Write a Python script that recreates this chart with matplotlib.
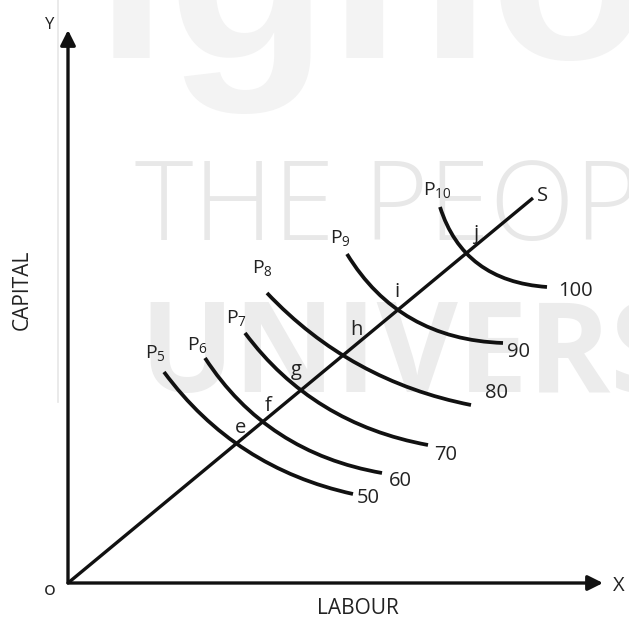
import numpy as np
import matplotlib.pyplot as plt
from matplotlib.path import Path
from matplotlib.patches import PathPatch

plt.rcParams["font.family"] = ["Open Sans", "DejaVu Sans"]
plt.rcParams["mathtext.fontset"] = "custom"
plt.rcParams["mathtext.rm"] = "Open Sans"
plt.rcParams["mathtext.it"] = "Open Sans:italic"

# ── Data (labour, capital units) ───────────────────────────────────────────
isoquants   = ["P$_5$", "P$_6$", "P$_7$", "P$_8$", "P$_9$", "P$_{10}$"]
outputs     = ["50", "60", "70", "80", "90", "100"]
points      = ["e", "f", "g", "h", "i", "j"]

curve_start = [(19.2, 42.2), (27.4, 45.0), (35.4, 50.0), (39.8, 58.0), (55.8, 65.8), (74.4, 75.2)]
curve_cross = [(33.8, 27.8), (39.0, 32.2), (46.8, 38.4), (55.2, 45.4), (66.0, 54.6), (79.8, 65.8)]
curve_end   = [(57.0, 17.8), (62.8, 22.0), (72.0, 27.6), (80.6, 35.6), (87.0, 48.0), (95.8, 59.2)]

iso_label_pos = [(17.4, 46.0), (26.0, 47.6), (33.8, 53.0), (38.8, 63.0), (54.4, 69.0), (73.8, 78.6)]
out_label_pos = [(60.0, 17.0), (66.4, 20.4), (75.6, 25.6), (85.6, 38.0), (90.0, 46.2), (101.4, 58.4)]
pt_label_pos  = [(34.4, 31.0), (40.0, 35.4), (45.6, 42.6), (57.6, 50.6), (65.8, 58.2), (81.6, 69.8)]

ray_end = (93.0, 77.0)
x_max, y_max = 107.0, 110.6

# ── Figure ─────────────────────────────────────────────────────────────────
fig = plt.figure(figsize=(6.29, 6.19), dpi=100)
ax = fig.add_axes([0, 0, 1, 1])
ax.set_xlim(-13.6, 112.2)
ax.set_ylim(-7.2, 116.6)
ax.axis("off")

# watermark (behind everything)
wm = dict(transform=fig.transFigure, ha="left", va="baseline", zorder=0, clip_on=False)
ax.text(0.150, 0.906, "ignou", fontsize=190, fontweight="bold", color="#f3f3f3",
        family=["Liberation Sans", "DejaVu Sans"], **wm)
ax.text(0.214, 0.612, "THE PEOPLE'S", fontsize=80, fontweight="light", color="#e8e8e8", **wm)
ax.text(0.222, 0.367, "UNIVERSITY", fontsize=90, fontweight="bold", color="#ececec", **wm)
ax.axvline(-2.0, ymin=0.35, ymax=1.0, color="#e6e6e6", lw=1.2, zorder=0.5)

lw = 2.4
ink = "#111111"
# axes with arrows
arrow = dict(arrowstyle="-|>,head_length=0.9,head_width=0.45", lw=lw, color=ink, shrinkA=0, shrinkB=0)
ax.annotate("", xy=(0, y_max), xytext=(0, 0), arrowprops=arrow, zorder=3)
ax.annotate("", xy=(x_max, 0), xytext=(0, 0), arrowprops=arrow, zorder=3)

# scale line OS
ax.plot([0, ray_end[0]], [0, ray_end[1]], color=ink, lw=lw, solid_capstyle="butt", zorder=3)

# isoquants as quadratic bezier through the crossing point
for p0, pm, p2 in zip(curve_start, curve_cross, curve_end):
    p0, pm, p2 = np.array(p0), np.array(pm), np.array(p2)
    d1 = np.linalg.norm(pm - p0)
    d2 = np.linalg.norm(p2 - pm)
    t = d1 / (d1 + d2)
    ctrl = (pm - (1 - t) ** 2 * p0 - t ** 2 * p2) / (2 * t * (1 - t))
    path = Path([p0, ctrl, p2], [Path.MOVETO, Path.CURVE3, Path.CURVE3])
    ax.add_patch(PathPatch(path, fill=False, lw=lw + 0.3, color=ink, capstyle="butt", zorder=3))

txt = dict(ha="center", va="center", color="#222222", zorder=5)
for lab, (x, y) in zip(isoquants, iso_label_pos):
    ax.text(x, y, lab, fontsize=14, **txt)
for lab, (x, y) in zip(outputs, out_label_pos):
    ax.text(x, y, lab, fontsize=14.5, **txt)
for lab, (x, y) in zip(points, pt_label_pos):
    ax.text(x, y, lab, fontsize=14.5, **txt)

ax.text(95.0, 77.4, "S", fontsize=14.5, **txt)
ax.text(-3.6, 111.6, "Y", fontsize=12, **txt)
ax.text(110.2, -0.6, "X", fontsize=14.5, **txt)
ax.text(-3.6, -1.4, "o", fontsize=14, **txt)
ax.text(58.0, -5.2, "LABOUR", fontsize=15, **txt)
ax.text(-9.2, 58.6, "CAPITAL", fontsize=15, rotation=90, **txt)

fig.savefig("out.png", dpi=100)
